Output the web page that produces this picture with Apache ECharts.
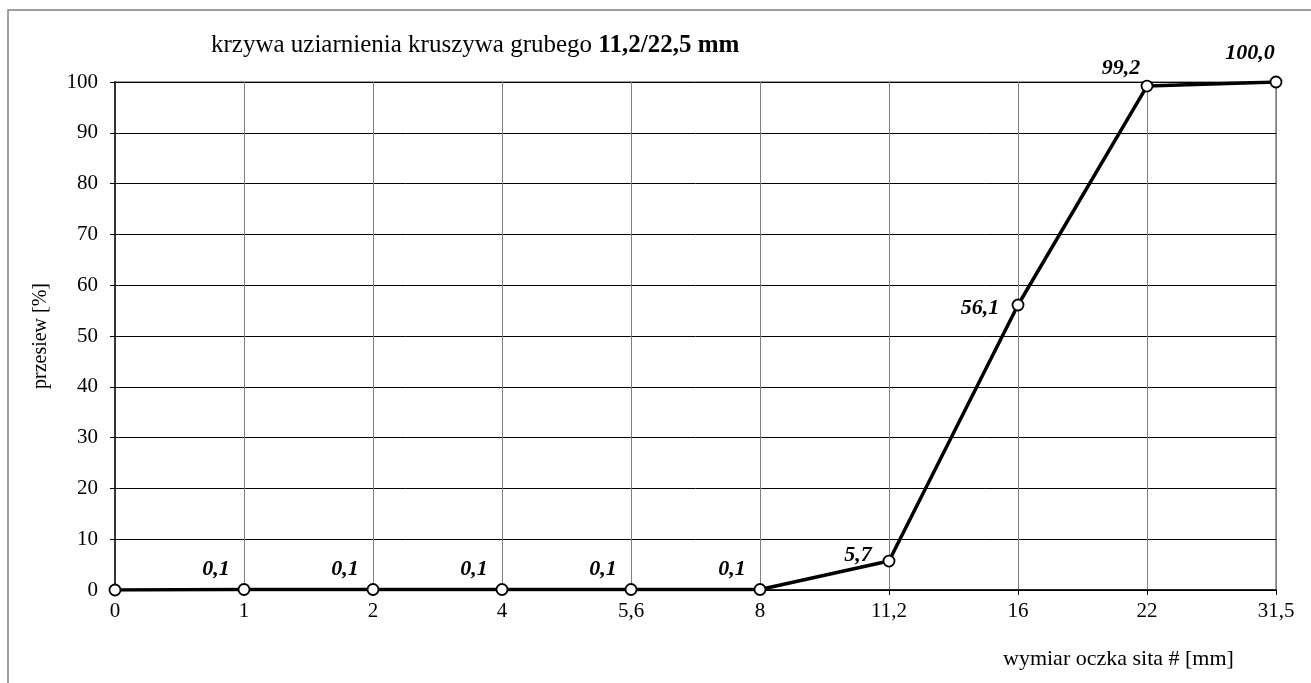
<!DOCTYPE html>
<html>
<head>
<meta charset="utf-8">
<script src="https://cdn.jsdelivr.net/npm/echarts@6/dist/echarts.min.js"></script>
<style>
html,body{margin:0;padding:0;background:#fff;}
#chart{width:1311px;height:683px;}
</style>
</head>
<body>
<div id="chart"></div>
<script>
// ---- data ----
const categories = ['0', '1', '2', '4', '5,6', '8', '11,2', '16', '22', '31,5'];
const passing = [0, 0.1, 0.1, 0.1, 0.1, 0.1, 5.7, 56.1, 99.2, 100.0];
const valueLabels = ['', '0,1', '0,1', '0,1', '0,1', '0,1', '5,7', '56,1', '99,2', '100,0'];
const yTicks = [0, 10, 20, 30, 40, 50, 60, 70, 80, 90, 100];
const titleNormal = 'krzywa uziarnienia kruszywa grubego ';
const titleBold = '11,2/22,5 mm';
const yName = 'przesiew [%]';
const xName = 'wymiar oczka sita # [mm]';

// ---- layout/style ----
const FONT = '"Liberation Serif", "Times New Roman", serif';
const labelOffsets = [[0,0],[-28,-20],[-28,-20],[-28,-20],[-28,-20],[-28,-20],[-31,-6],[-38,3],[-26,-18],[-26,-29]];

const seriesData = passing.map((v, i) => ({
  value: v,
  label: {
    show: valueLabels[i] !== '',
    formatter: valueLabels[i],
    position: 'inside',
    offset: labelOffsets[i]
  }
}));

const chart = echarts.init(document.getElementById('chart'));
chart.setOption({
  animation: false,
  backgroundColor: '#fff',
  textStyle: { fontFamily: FONT },
  title: {
    text: '{n|' + titleNormal + '}{b|' + titleBold + '}',
    left: 211,
    top: 33,
    padding: 0,
    textStyle: {
      fontWeight: 'normal',
      fontFamily: FONT,
      fontSize: 25,
      rich: {
        n: { fontFamily: FONT, fontSize: 25, fontWeight: 'normal', color: '#000' },
        b: { fontFamily: FONT, fontSize: 25, fontWeight: 'bold', color: '#000' }
      }
    }
  },
  grid: {
    left: 115, right: 35, top: 82, bottom: 93,
    show: true, borderColor: '#808080', borderWidth: 1.5
  },
  xAxis: {
    type: 'category',
    data: categories,
    boundaryGap: false,
    axisLine: { show: true, lineStyle: { color: '#000', width: 1.5 } },
    axisTick: { show: true, inside: false, length: 5, lineStyle: { color: '#000' } },
    axisLabel: { color: '#000', fontFamily: FONT, fontSize: 21, margin: 11 },
    splitLine: { show: true, lineStyle: { color: '#808080', width: 1 } }
  },
  yAxis: {
    type: 'value',
    min: 0, max: 100, interval: 10,
    name: yName,
    nameLocation: 'middle',
    nameGap: 64,
    nameRotate: 90,
    nameTextStyle: { color: '#000', fontFamily: FONT, fontSize: 20 },
    axisLine: { show: true, lineStyle: { color: '#333', width: 2 } },
    axisTick: { show: true, length: 5, lineStyle: { color: '#000' } },
    axisLabel: {
      color: '#000', fontFamily: FONT, fontSize: 21, margin: 17,
      formatter: v => yTicks.includes(v) ? String(v) : ''
    },
    splitLine: { show: true, lineStyle: { color: '#000', width: 1 } }
  },
  series: [{
    type: 'line',
    data: seriesData,
    lineStyle: { color: '#000', width: 3.5 },
    itemStyle: { color: '#fff', borderColor: '#000', borderWidth: 1.8 },
    symbol: 'circle',
    symbolSize: 11,
    label: {
      color: '#000',
      fontFamily: FONT,
      fontSize: 22,
      fontWeight: 'bold',
      fontStyle: 'italic'
    },
    z: 5
  }],
  graphic: [
    {
      type: 'rect',
      shape: { x: 8, y: 10, width: 1400, height: 800 },
      style: { fill: 'none', stroke: '#808080', lineWidth: 1.5 },
      silent: true
    },
    {
      type: 'text',
      left: 1003,
      top: 648,
      style: { text: xName, fill: '#000', font: '22px ' + FONT }
    }
  ]
});
</script>
</body>
</html>
